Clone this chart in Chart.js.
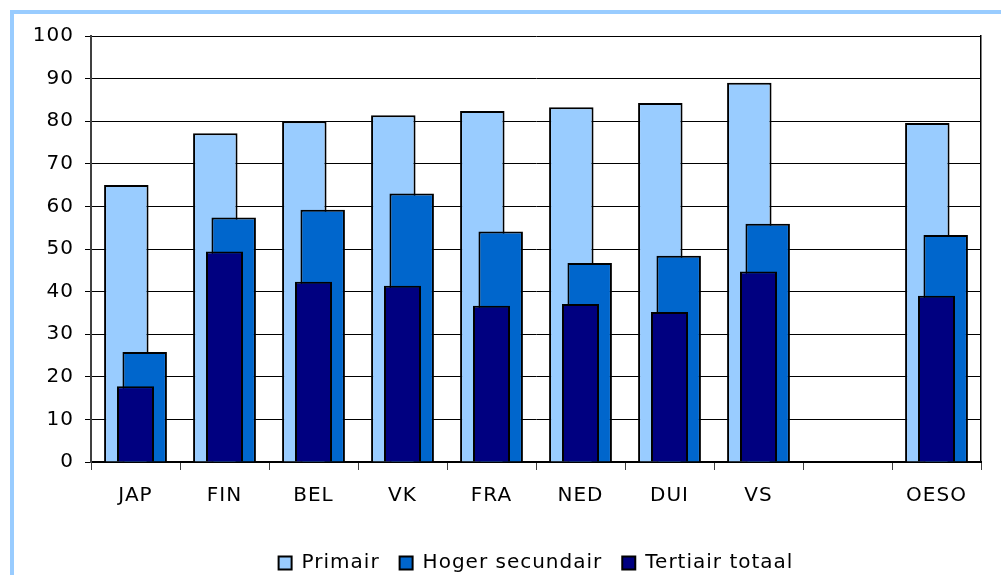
<!DOCTYPE html>
<html><head><meta charset="utf-8">
<script src="https://cdn.jsdelivr.net/npm/chart.js@4"></script>
<style>
html,body{margin:0;padding:0;background:#fff;overflow:hidden;width:1001px;height:575px}
#frame{position:absolute;left:10px;top:10px;width:1001px;height:575px;border-left:4px solid #99ccff;border-top:4px solid #99ccff}
#c{position:absolute;left:0;top:0}
</style></head>
<body>
<div id="frame"></div>
<canvas id="c" width="1001" height="575"></canvas>
<script>
const categories = ['JAP', 'FIN', 'BEL', 'VK', 'FRA', 'NED', 'DUI', 'VS', '', 'OESO'];
const primair   = [65.0, 77.2, 80.0, 81.4, 82.4, 83.3, 84.3, 89.0, null, 79.6];
const hoger     = [25.8, 57.4, 59.2, 63.0, 54.1, 46.7, 48.4, 55.9, null, 53.3];
const tertiair  = [17.8, 49.4, 42.3, 41.4, 36.7, 37.1, 35.2, 44.7, null, 39.0];
const yTicks    = [0, 10, 20, 30, 40, 50, 60, 70, 80, 90, 100];

Chart.defaults.font.family = "'DejaVu Sans', Verdana, sans-serif";
Chart.defaults.color = '#000';

const spacing = {
  id: 'spacing',
  beforeUpdate(chart) { chart.ctx.letterSpacing = '1px'; },
  beforeDraw(chart) { chart.ctx.letterSpacing = '1px'; }
};

// Draw "late" datasets after the others, in dataset order (front-most last)
const layering = {
  id: 'layering',
  beforeDatasetDraw(chart, args) {
    if (chart.data.datasets[args.index].late) return false;
  },
  afterDatasetsDraw(chart) {
    chart.data.datasets.forEach((d, i) => {
      if (d.late) chart.getDatasetMeta(i).controller.draw();
    });
  }
};

new Chart(document.getElementById('c'), {
  type: 'bar',
  data: {
    labels: categories,
    datasets: [
      { label: 'Primair', data: primair, backgroundColor: '#99ccff', borderColor: '#000', borderWidth: 2, order: 1,
        categoryPercentage: 0.413, barPercentage: 2.42 },
      { label: 'Hoger secundair', data: hoger, backgroundColor: '#0066cc', borderColor: '#000', borderWidth: 2, order: 2,
        categoryPercentage: 0.413, barPercentage: 2.42, late: true },
      { label: 'Tertiair totaal', data: tertiair, backgroundColor: '#000080', borderColor: '#000', borderWidth: 2, order: 3,
        grouped: false, categoryPercentage: 1, barPercentage: 0.416, late: true }
    ]
  },
  options: {
    responsive: false,
    animation: false,
    layout: { padding: { left: 0, right: 20, top: 36, bottom: -8 } },
    plugins: {
      tooltip: { enabled: false },
      legend: {
        position: 'bottom',
        fullSize: false,
        labels: {
          sort: (a, b) => a.datasetIndex - b.datasetIndex,
          boxWidth: 13, boxHeight: 13, padding: 20,
          font: { size: 20 }, color: '#000'
        }
      }
    },
    scales: {
      x: {
        type: 'category', offset: true,
        grid: { offset: true, drawOnChartArea: false, drawTicks: true, tickLength: 8, color: '#404040', lineWidth: 1 },
        border: { display: true, color: '#000', width: 2 },
        ticks: { color: '#000', font: { size: 20 }, padding: 14, maxRotation: 0, autoSkip: false },
        afterFit(s) { s.height = 71; }
      },
      y: {
        min: 0, max: 100,
        afterBuildTicks(s) { s.ticks = yTicks.map(v => ({ value: v })); },
        ticks: { color: '#000', font: { size: 20 }, padding: 11 },
        grid: { color: '#000', lineWidth: 1, tickLength: 6 },
        border: { color: '#404040', width: 2 },
        afterFit(s) { s.width = 91; }
      },
      yR: {
        position: 'right', display: true,
        grid: { display: false },
        ticks: { display: false },
        border: { display: true, color: '#000', width: 1.5 },
        afterFit(s) { s.width = 0; }
      }
    }
  },
  plugins: [spacing, layering]
});
</script>
</body></html>
